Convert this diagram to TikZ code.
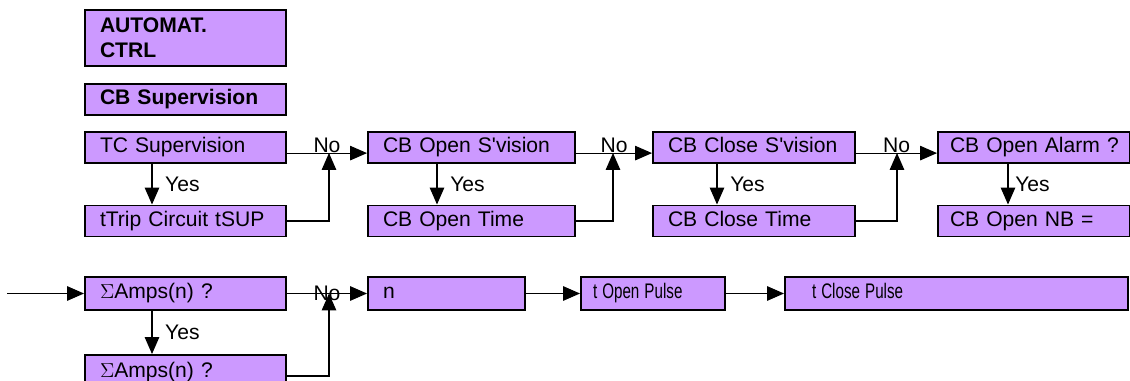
\documentclass[tikz,border=0pt]{standalone}
\usepackage{fontspec}
\setmainfont{Liberation Sans}
\usetikzlibrary{arrows.meta}
\definecolor{lilac}{RGB}{204,153,255}

\begin{document}
\begin{tikzpicture}[every node/.style={font=\fontsize{15}{18}\selectfont},
  box/.style={draw,fill=lilac,line width=1.4pt,minimum height=0.775cm,inner xsep=0.375cm,inner ysep=0pt,align=left,text height=0.95em,text depth=0.2em},
  link/.style={line width=0.8pt,-{Triangle[length=0.42cm,width=0.36cm]}},
  lbl/.style={inner sep=0pt}]
\useasboundingbox (0,0) rectangle (28.25,-9.525);
% header boxes
\node[box,text width=4.275cm,minimum height=1.4cm,text height=,text depth=] (auto) at (4.6375,-0.95) {\bfseries AUTOMAT.\\CTRL};
\node[box,text width=4.275cm] (cbsup) at (4.6375,-2.4875) {\bfseries CB Supervision};
% first row of checks
\node[box,text width=4.275cm] (tcsup) at (4.6375,-3.6875) {TC Supervision};
\node[box,text width=4.275cm] (ttrip) at (4.6375,-5.525) {tTrip Circuit tSUP};
\node[box,text width=4.425cm] (opens) at (11.7875,-3.6875) {CB Open S\textquotesingle vision};
\node[box,text width=4.425cm] (opent) at (11.7875,-5.525) {CB Open Time};
\node[box,text width=4.3cm] (closes) at (18.85,-3.6875) {CB Close S\textquotesingle vision};
\node[box,text width=4.3cm] (closet) at (18.85,-5.525) {CB Close Time};
\node[box,text width=4.2cm,inner xsep=0.3cm] (alarm) at (25.85,-3.6875) {\mbox{CB Open Alarm ?}};
\node[box,text width=4.2cm,inner xsep=0.3cm] (opennb) at (25.85,-5.525) {CB Open NB =};
% second row
\node[box,text width=4.275cm,minimum height=0.825cm] (amps) at (4.6375,-7.3375) {$\Sigma$Amps(n) ?};
\node[box,text width=4.275cm,minimum height=0.85cm] (amps2) at (4.6375,-9.3) {$\Sigma$Amps(n) ?};
\node[box,text width=3.175cm,minimum height=0.825cm] (n) at (11.1625,-7.3375) {n};
\node[box,text width=3.0cm,inner xsep=0.3cm,minimum height=0.825cm] (topen) at (16.325,-7.3375) {\scalebox{0.72}[1]{t Open Pulse}};
\node[box,text width=7.225cm,inner xsep=0.675cm,minimum height=0.825cm] (tclose) at (23.9125,-7.3375) {\scalebox{0.72}[1]{t Close Pulse}};

\coordinate (j1) at (8.225,-3.825);
\coordinate (j2) at (15.325,-3.825);
\coordinate (j3) at (22.425,-3.825);
\coordinate (j4) at (8.225,-7.3375);
\coordinate (in) at (0.175,-7.3375);

% No branches
\draw[link] ([yshift=-0.14cm]tcsup.east) -- node[lbl,anchor=south] {No} ([yshift=-0.14cm]opens.west);
\draw[link] ([yshift=-0.14cm]opens.east) -- node[lbl,anchor=south] {No} ([yshift=-0.14cm]closes.west);
\draw[link] ([yshift=-0.14cm]closes.east) -- node[lbl,anchor=south] {No} ([yshift=-0.14cm]alarm.west);
\draw[link] (amps.east) -- node[lbl] {No} (n.west);
% Yes branches
\draw[link] ([xshift=-0.8375cm]tcsup.south) -- node[right,xshift=0.2cm] {Yes} ([xshift=-0.8375cm]ttrip.north);
\draw[link] ([xshift=-0.8625cm]opens.south) -- node[right,xshift=0.2cm] {Yes} ([xshift=-0.8625cm]opent.north);
\draw[link] ([xshift=-0.925cm]closes.south) -- node[right,xshift=0.2cm] {Yes} ([xshift=-0.925cm]closet.north);
\draw[link] ([xshift=-0.65cm]alarm.south) -- node[right,xshift=0.05cm] {Yes} ([xshift=-0.65cm]opennb.north);
\draw[link] ([xshift=-0.8375cm]amps.south) -- node[right,xshift=0.2cm] {Yes} ([xshift=-0.8375cm]amps2.north);
% returns
\draw[link] (ttrip.east) -| (j1);
\draw[link] (opent.east) -| (j2);
\draw[link] (closet.east) -| (j3);
\draw[link] ([yshift=-0.1cm]amps2.east) -| (j4);
% pulses
\draw[link] (in) -- (amps.west);
\draw[link] (n.east) -- (topen.west);
\draw[link] (topen.east) -- (tclose.west);
\end{tikzpicture}
\end{document}
